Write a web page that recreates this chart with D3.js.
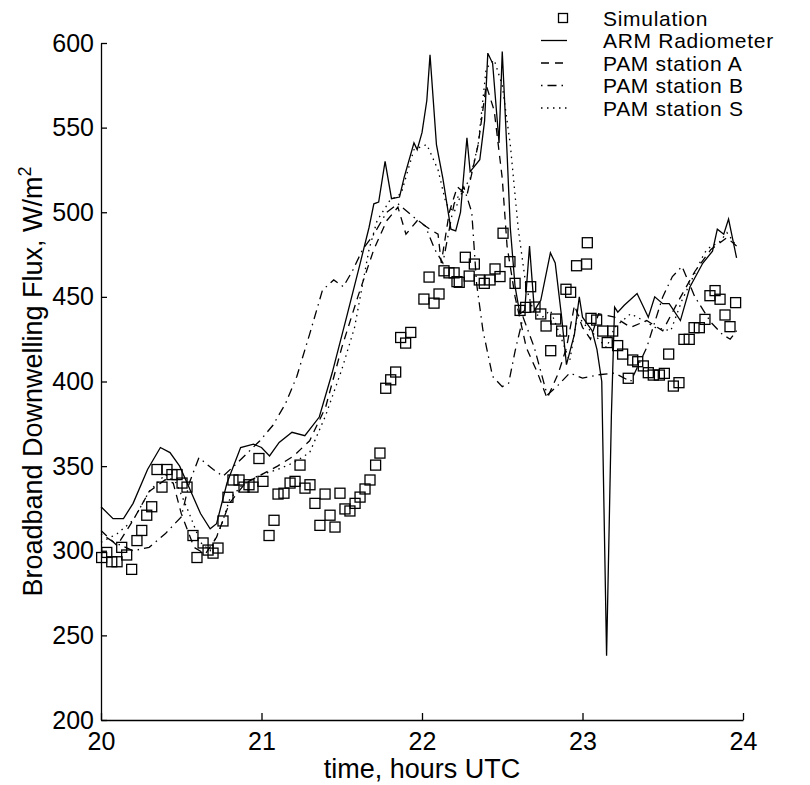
<!DOCTYPE html>
<html>
<head>
<meta charset="utf-8">
<script src="https://cdn.jsdelivr.net/npm/d3@7"></script>
<style>
  body { margin: 0; background: #fff; }
  svg { display: block; font-family: "Liberation Sans", Arial, Helvetica, sans-serif; }
</style>
</head>
<body>
<script>
// x-axis ticks (hours UTC) and y-axis ticks (W/m^2)
const timeTicks = [20, 21, 22, 23, 24];
const fluxTicks = [200, 250, 300, 350, 400, 450, 500, 550, 600];

// [time, flux]
const simulation = [
  [20.004,296],[20.036,299],[20.067,293.5],[20.10,293.5],[20.129,302],[20.16,297.5],[20.191,289],
  [20.224,306],[20.254,312],[20.285,321],[20.316,326],[20.349,348],[20.38,337.6],[20.411,348],
  [20.442,345],[20.474,345],[20.505,340],[20.536,337.6],[20.573,309],[20.598,296],[20.636,304.6],
  [20.667,300.4],[20.698,298.6],[20.729,301.6],[20.76,317.6],[20.791,331.6],[20.822,341.8],[20.86,341.8],
  [20.891,337.6],[20.922,339],[20.947,337.6],[20.984,354.5],[21.009,341],[21.047,309],[21.078,318],
  [21.103,333.5],[21.14,334],[21.178,340],[21.209,341],[21.24,350.6],[21.271,337],[21.302,339],
  [21.333,328],[21.364,315],[21.396,333.5],[21.427,321],[21.458,314],[21.489,334],[21.52,324.7],
  [21.551,323.5],[21.583,328],[21.614,331.7],[21.645,336.5],[21.676,341.8],[21.711,350.6],[21.738,357.7],
  [21.774,396],[21.805,401],[21.836,405.6],[21.867,426],[21.898,422.7],[21.93,429],[22.012,448.7],
  [22.044,461.7],[22.075,446.3],[22.106,451.7],[22.137,465.4],[22.168,464.2],[22.2,464.2],[22.218,459],
  [22.27,473.4],[22.326,469.4],[22.232,458.6],[22.294,462.3],[22.357,460],[22.388,458],[22.424,460],
  [22.455,466.5],[22.486,462],[22.548,470.8],[22.58,458],[22.505,487.6],[22.677,456],[22.611,442],
  [22.646,443.8],[22.704,444],[22.74,439.9],[22.773,432.8],[22.833,436.9],[22.802,418.2],[22.87,429.8],
  [22.897,454.5],[22.926,452.7],[22.963,468.4],[23.03,482],[23.025,469.4],[23.053,437.3],[23.088,436.3],
  [23.126,429.8],[23.188,429.8],[23.154,423],[23.219,421.2],[23.25,416.2],[23.285,401.9],[23.313,412.7],
  [23.344,411.7],[23.379,409.2],[23.41,405.2],[23.441,403.8],[23.479,403.8],[23.51,404.8],[23.537,416.2],
  [23.566,397.3],[23.601,399.3],[23.632,424.9],[23.665,424.9],[23.695,431.8],[23.728,431.8],[23.763,436.7],
  [23.794,450.7],[23.826,453.7],[23.857,448.6],[23.888,439.3],[23.919,432.4],[23.954,446.6]
];

const armRadiometer = [
  [20.00,326],[20.075,319],[20.14,319],[20.20,328],[20.29,348],[20.37,361],[20.43,358],[20.49,350],
  [20.555,336],[20.62,322],[20.68,313],[20.72,316],[20.785,340],[20.87,361],[20.95,363],[21.00,361],
  [21.05,356],[21.11,364],[21.19,370],[21.27,368],[21.36,379],[21.44,405],[21.53,438],[21.61,468],
  [21.67,491],[21.70,505],[21.73,506],[21.77,530],[21.81,508],[21.86,509],[21.89,521],[21.95,541],
  [21.97,537],[22.00,547],[22.03,566],[22.05,593],[22.09,540],[22.13,520],[22.18,490],[22.21,489],
  [22.24,500],[22.28,544],[22.30,524],[22.36,531],[22.39,554],[22.41,594],[22.44,588],[22.48,541],
  [22.50,595],[22.53,535],[22.55,491],[22.58,456],[22.61,440],[22.64,442],[22.67,480],[22.70,442],
  [22.74,448],[22.80,476],[22.83,470],[22.87,438],[22.90,410],[22.95,428],[22.98,450],[23.00,438],
  [23.06,430],[23.09,419],[23.12,400],[23.15,238],[23.18,380],[23.20,444],[23.22,441],[23.26,445],
  [23.34,452],[23.38,444],[23.41,438],[23.45,450],[23.50,446],[23.54,446],[23.61,436],[23.67,456],
  [23.75,470],[23.81,477],[23.84,490],[23.88,487],[23.91,496],[23.96,473]
];

const pamA = [
  [20.00,312],[20.10,303],[20.20,318],[20.30,335],[20.40,342],[20.45,340],[20.50,322],[20.58,302],
  [20.65,298],[20.72,308],[20.80,328],[20.90,340],[21.00,345],[21.10,350],[21.20,356],[21.30,365],
  [21.40,385],[21.50,420],[21.60,450],[21.70,478],[21.78,495],[21.85,503],[21.90,487],[21.97,495],
  [22.05,490],[22.10,487],[22.12,470],[22.17,500],[22.22,515],[22.28,510],[22.35,540],[22.40,575],
  [22.45,560],[22.50,520],[22.53,480],[22.58,450],[22.65,420],[22.72,405],[22.78,390],[22.85,405],
  [22.90,420],[22.95,445],[23.00,432],[23.05,425],[23.10,440],[23.20,438],[23.30,432],[23.40,436],
  [23.50,430],[23.60,448],[23.70,465],[23.80,478],[23.90,485],[23.96,480]
];

const pamB = [
  [20.00,310],[20.08,305],[20.20,300],[20.30,302],[20.40,310],[20.50,320],[20.55,340],[20.61,355],
  [20.70,348],[20.76,344],[20.85,352],[20.99,365],[21.07,374],[21.15,387],[21.22,403],[21.30,428],
  [21.38,454],[21.45,460],[21.51,456],[21.57,466],[21.63,478],[21.70,487],[21.78,500],[21.85,505],
  [21.95,497],[22.02,492],[22.08,478],[22.13,470],[22.20,505],[22.26,515],[22.31,500],[22.34,458],
  [22.38,430],[22.44,403],[22.50,397],[22.54,399],[22.58,418],[22.63,438],[22.70,420],[22.78,392],
  [22.85,398],[22.92,405],[23.00,402],[23.10,404],[23.20,405],[23.30,400],[23.40,420],[23.50,450],
  [23.56,462],[23.62,468],[23.70,450],[23.80,435],[23.87,428],[23.92,425],[23.96,430]
];

const pamS = [
  [20.00,305],[20.10,310],[20.20,318],[20.30,335],[20.40,345],[20.47,340],[20.55,322],[20.62,305],
  [20.68,300],[20.75,315],[20.80,330],[20.87,338],[20.95,343],[21.00,345],[21.10,348],[21.20,352],
  [21.30,358],[21.40,380],[21.50,407],[21.58,432],[21.67,478],[21.72,495],[21.80,507],[21.87,511],
  [21.95,537],[22.03,540],[22.10,525],[22.15,505],[22.20,500],[22.25,512],[22.30,520],[22.35,540],
  [22.40,585],[22.45,590],[22.50,575],[22.55,540],[22.60,490],[22.65,455],[22.70,440],[22.75,438],
  [22.80,442],[22.87,425],[22.92,412],[22.97,440],[23.00,435],[23.10,425],[23.15,420],[23.20,432],
  [23.30,440],[23.40,435],[23.45,432],[23.55,430],[23.62,448],[23.70,464],[23.76,476],[23.80,480],
  [23.85,482],[23.90,488],[23.96,480]
];

const legendNames = ["Simulation", "ARM Radiometer", "PAM station A", "PAM station B", "PAM station S"];

const width = 810, height = 785;
const margin = {top: 43, right: 67, bottom: 65, left: 101};

const svg = d3.select("body").append("svg")
  .attr("width", width).attr("height", height);

const x = d3.scaleLinear().domain([20, 24]).range([margin.left, width - margin.right]);
const y = d3.scaleLinear().domain([200, 600]).range([height - margin.bottom, margin.top]);

const line = d3.line().x(d => x(d[0])).y(d => y(d[1]));

// the four measured series, same ink, different dash
const series = [
  {data: armRadiometer, dash: null},
  {data: pamA, dash: "8,6"},
  {data: pamB, dash: "1.5,5,9,5"},
  {data: pamS, dash: "1.5,4.5"}
];

series.forEach(s => {
  svg.append("path")
    .datum(s.data)
    .attr("d", line)
    .attr("fill", "none")
    .attr("stroke", "#000")
    .attr("stroke-width", 1.3)
    .attr("stroke-dasharray", s.dash);
});

// simulation squares
const sq = 10;
svg.append("g").selectAll("rect")
  .data(simulation)
  .enter()
  .append("rect")
  .attr("x", d => x(d[0]) - sq / 2)
  .attr("y", d => y(d[1]) - sq / 2)
  .attr("width", sq)
  .attr("height", sq)
  .attr("fill", "none")
  .attr("stroke", "#000")
  .attr("stroke-width", 1.3);

// axes, ticks pointing inward
const xAxis = d3.axisBottom(x).tickValues(timeTicks).tickFormat(d3.format("d"))
  .tickSizeInner(-7).tickSizeOuter(0).tickPadding(12);
const yAxis = d3.axisLeft(y).tickValues(fluxTicks).tickFormat(d3.format("d"))
  .tickSizeInner(-6).tickSizeOuter(0).tickPadding(7);

const gx = svg.append("g")
  .attr("transform", "translate(0," + (height - margin.bottom) + ")")
  .call(xAxis);
const gy = svg.append("g")
  .attr("transform", "translate(" + margin.left + ",0)")
  .call(yAxis);

[gx, gy].forEach(g => {
  g.selectAll("path, line").attr("stroke", "#000").attr("stroke-width", 1.3);
  g.selectAll("text").attr("fill", "#000").style("font-size", "25px");
});

// axis labels
svg.append("text")
  .attr("x", x(22)).attr("y", 778)
  .attr("text-anchor", "middle")
  .style("font-size", "27px")
  .text("time, hours UTC");

const ylab = svg.append("text")
  .attr("transform", "translate(42," + y(400) + ") rotate(-90)")
  .attr("text-anchor", "middle")
  .style("font-size", "27px");
ylab.append("tspan").text("Broadband Downwelling Flux, W/m");
ylab.append("tspan").attr("dy", -11).style("font-size", "18px").text("2");

// legend
const legend = svg.append("g");
const rowY = i => 18 + i * 22.5;
legendNames.forEach((name, i) => {
  legend.append("text")
    .attr("x", 603).attr("y", rowY(i))
    .attr("dy", "0.36em")
    .style("font-size", "21px")
    .style("letter-spacing", "0.7px")
    .text(name);
  if (i === 0) {
    legend.append("rect")
      .attr("x", 563 - 4.5).attr("y", rowY(i) - 4.5)
      .attr("width", 9).attr("height", 9)
      .attr("fill", "none").attr("stroke", "#000").attr("stroke-width", 1.3);
  } else {
    legend.append("line")
      .attr("x1", 541).attr("x2", 567)
      .attr("y1", rowY(i)).attr("y2", rowY(i))
      .attr("stroke", "#000").attr("stroke-width", 1.3)
      .attr("stroke-dasharray", series[i - 1].dash);
  }
});
</script>
</body>
</html>
